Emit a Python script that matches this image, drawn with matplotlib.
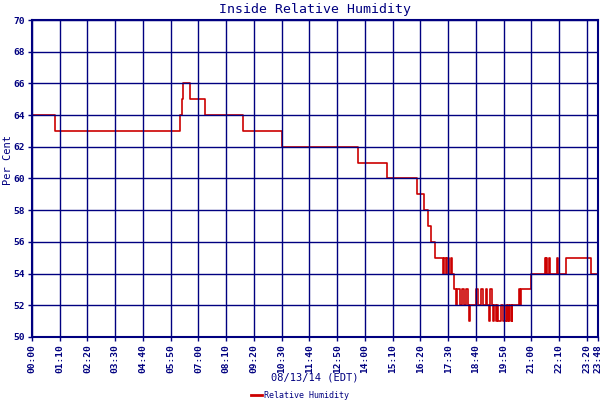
import matplotlib
matplotlib.use("Agg")
import matplotlib.pyplot as plt

# ---- data ----
times = ["00:00", "00:01", "00:58", "06:13", "06:18", "06:22", "06:39", "07:17",
         "08:53", "10:30", "13:43", "14:56", "16:11", "16:28", "16:38", "16:47",
         "16:58", "17:16", "17:20", "17:25", "17:28", "17:33", "17:37", "17:39",
         "17:45", "17:50", "17:53", "18:00", "18:05", "18:11", "18:15", "18:20",
         "18:23", "18:26", "18:40", "18:46", "18:53", "18:57", "19:05", "19:09",
         "19:12", "19:15", "19:20", "19:22", "19:25", "19:31", "19:33", "19:36",
         "19:44", "19:49", "19:56", "19:59", "20:02", "20:04", "20:07", "20:10",
         "20:12", "20:29", "20:31", "20:33", "21:00", "21:34", "21:36", "21:37",
         "21:40", "21:45", "21:46", "22:04", "22:08", "22:27", "23:30", "23:48"]
humidity = [63, 64, 63, 64, 65, 66, 65, 64,
            63, 62, 61, 60, 59, 58, 57, 56,
            55, 54, 55, 54, 55, 54, 55, 54,
            53, 52, 53, 52, 53, 52, 53, 52,
            51, 52, 53, 52, 53, 52, 53, 52,
            51, 53, 52, 51, 52, 51, 52, 51,
            52, 51, 52, 51, 52, 51, 52, 51,
            52, 53, 52, 53, 54, 55, 54, 55,
            54, 55, 54, 55, 54, 55, 54, 54]
xtick_labels = ["00:00", "01:10", "02:20", "03:30", "04:40", "05:50", "07:00",
                "08:10", "09:20", "10:30", "11:40", "12:50", "14:00", "15:10",
                "16:20", "17:30", "18:40", "19:50", "21:00", "22:10", "23:20",
                "23:48"]
yticks = list(range(50, 71, 2))

title = "Inside Relative Humidity"
xlabel = "08/13/14 (EDT)"
ylabel = "Per Cent"
series_name = "Relative Humidity"


def to_min(s):
    h, m = s.split(":")
    return int(h) * 60 + int(m)


navy = "#000080"
red = "#cc0000"
mono = "DejaVu Sans Mono"

fig = plt.figure(figsize=(6, 4), dpi=100)
ax = fig.add_axes([32 / 600, 1 - 337 / 400, 566 / 600, 317 / 400])

x = [to_min(t) for t in times]
ax.step(x, humidity, where="post", color=red, lw=1.2, label=series_name, zorder=2)

xt = [to_min(t) for t in xtick_labels]
ax.set_xlim(0, xt[-1])
ax.set_ylim(50, 70)
ax.set_xticks(xt)
ax.set_xticklabels(xtick_labels, rotation=90, fontsize=6.8, fontweight="bold",
                   family=mono, color=navy)
ax.set_yticks(yticks)
ax.set_yticklabels([str(v) for v in yticks], fontsize=6.8, fontweight="bold",
                   family=mono, color=navy)
ax.tick_params(axis="both", colors=navy, length=3, width=1, pad=2)

ax.set_axisbelow(False)
ax.grid(True, color=navy, lw=1.0)
for sp in ax.spines.values():
    sp.set_color(navy)
    sp.set_linewidth(1.5)

fig.text(315 / 600, 1 - 9 / 400, title, ha="center", va="center",
         fontsize=9.5, family=mono, color=navy)
fig.text(315 / 600, 1 - 378 / 400, xlabel, ha="center", va="center",
         fontsize=7.5, family=mono, color=navy)
fig.text(8 / 600, 1 - 160 / 400, ylabel, ha="center", va="center",
         rotation=90, fontsize=7.5, family=mono, color=navy)

leg = fig.legend(loc="center", bbox_to_anchor=(300 / 600, 1 - 395 / 400),
                 frameon=False, prop={"family": mono, "size": 6},
                 handlelength=1.3, handletextpad=0.3, borderpad=0)
for t in leg.get_texts():
    t.set_color(navy)
for h in leg.get_lines():
    h.set_linewidth(2)

fig.savefig("out.png", dpi=100, facecolor="white")
